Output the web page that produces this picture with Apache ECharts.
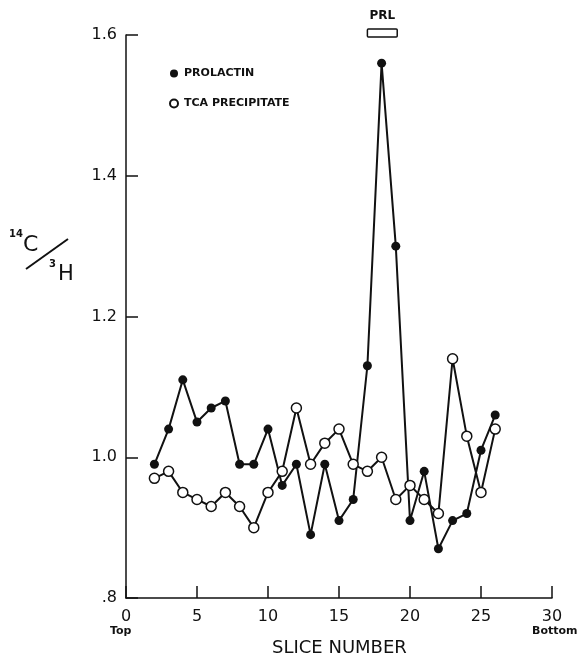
<!DOCTYPE html>
<html>
<head>
<meta charset="utf-8">
<script src="https://cdn.jsdelivr.net/npm/echarts@6/dist/echarts.min.js"></script>
<style>
  html, body { margin: 0; padding: 0; background: #fff; }
  #chart { width: 579px; height: 668px; }
</style>
</head>
<body>
<div id="chart"></div>
<script>
// Slice numbers along the gradient (top to bottom)
const slices = [2, 3, 4, 5, 6, 7, 8, 9, 10, 11, 12, 13, 14, 15, 16, 17, 18, 19, 20, 21, 22, 23, 24, 25, 26];

// 14C/3H ratio for immunoprecipitated prolactin
const prolactin = [0.99, 1.04, 1.11, 1.05, 1.07, 1.08, 0.99, 0.99, 1.04, 0.96, 0.99, 0.89, 0.99, 0.91, 0.94, 1.13, 1.56, 1.30, 0.91, 0.98, 0.87, 0.91, 0.92, 1.01, 1.06];

// 14C/3H ratio for the total TCA precipitate
const tca = [0.97, 0.98, 0.95, 0.94, 0.93, 0.95, 0.93, 0.90, 0.95, 0.98, 1.07, 0.99, 1.02, 1.04, 0.99, 0.98, 1.00, 0.94, 0.96, 0.94, 0.92, 1.14, 1.03, 0.95, 1.04];

// Slices where the prolactin marker runs
const prlBand = [17, 19.1];
const prlLabel = 'PRL';

// Axis settings
const xTicks = { min: 0, max: 30, step: 5 };
const yTicks = { min: 0.8, max: 1.6, step: 0.2 };

const seriesNames = ['PROLACTIN', 'TCA PRECIPITATE'];

const FONT = '"DejaVu Sans", sans-serif';
const INK = '#111';

const chart = echarts.init(document.getElementById('chart'), null, { renderer: 'canvas' });

const option = {
  backgroundColor: '#fff',
  animation: false,
  grid: { left: 126, right: 27, top: 35, bottom: 70, containLabel: false },
  xAxis: {
    type: 'value',
    min: xTicks.min, max: xTicks.max, interval: xTicks.step,
    axisLine: { show: true, lineStyle: { color: INK, width: 1.5 } },
    axisTick: { show: true, inside: true, length: 12, lineStyle: { color: INK, width: 1.5 } },
    splitLine: { show: false },
    axisLabel: { color: INK, fontFamily: FONT, fontSize: 16, margin: 11 }
  },
  yAxis: {
    type: 'value',
    min: yTicks.min, max: yTicks.max, interval: yTicks.step,
    axisLine: { show: true, lineStyle: { color: INK, width: 1.5 } },
    axisTick: { show: true, inside: true, length: 12, lineStyle: { color: INK, width: 1.5 } },
    splitLine: { show: false },
    axisLabel: {
      color: INK, fontFamily: FONT, fontSize: 16, margin: 9,
      formatter: v => {
        const s = (Math.round(v * 10) / 10).toFixed(1);
        return s.startsWith('0') ? s.slice(1) : s;
      }
    }
  },
  legend: {
    orient: 'vertical',
    left: 164, top: 63,
    itemGap: 19,
    itemWidth: 8, itemHeight: 8,
    textStyle: { color: INK, fontFamily: FONT, fontSize: 11, fontWeight: 'bold', padding: [0, 0, 0, 1] },
    data: [
      { name: seriesNames[0], icon: 'circle' },
      { name: seriesNames[1], icon: 'circle' }
    ]
  },
  series: [
    {
      name: seriesNames[1],
      type: 'line',
      data: slices.map((s, i) => [s, tca[i]]),
      symbol: 'circle',
      symbolSize: 10,
      lineStyle: { color: INK, width: 2 },
      itemStyle: { color: '#fff', borderColor: INK, borderWidth: 1.5 },
      z: 3
    },
    {
      name: seriesNames[0],
      type: 'line',
      data: slices.map((s, i) => [s, prolactin[i]]),
      symbol: 'circle',
      symbolSize: 9,
      lineStyle: { color: INK, width: 2 },
      itemStyle: { color: INK },
      z: 2
    },
    {
      // Marker bar and label above the peak
      type: 'custom',
      clip: false,
      silent: true,
      data: [prlBand],
      encode: { x: [0, 1] },
      renderItem: (params, api) => {
        const a = api.coord([api.value(0), yTicks.max]);
        const b = api.coord([api.value(1), yTicks.max]);
        const top = a[1] - 6;
        return {
          type: 'group',
          children: [
            {
              type: 'rect',
              shape: { x: a[0], y: top, width: b[0] - a[0], height: 8, r: 1 },
              style: { fill: '#fff', stroke: INK, lineWidth: 1.5 }
            },
            {
              type: 'text',
              style: {
                text: prlLabel, x: (a[0] + b[0]) / 2, y: top - 7,
                fill: INK, font: 'bold 12px ' + FONT,
                textAlign: 'center', textVerticalAlign: 'bottom'
              }
            }
          ]
        };
      }
    }
  ],
  graphic: [
    // y-axis title: 14C / 3H
    { type: 'text', left: 9, top: 229, style: { text: '14', fill: INK, font: 'bold 10px ' + FONT } },
    { type: 'text', left: 23, top: 234, style: { text: 'C', fill: INK, font: '22px ' + FONT } },
    { type: 'line', shape: { x1: 26, y1: 269, x2: 68, y2: 239 }, style: { stroke: INK, lineWidth: 2 } },
    { type: 'text', left: 49, top: 259, style: { text: '3', fill: INK, font: 'bold 10px ' + FONT } },
    { type: 'text', left: 58, top: 264, style: { text: 'H', fill: INK, font: '21px ' + FONT } },
    // x-axis end captions and title
    { type: 'text', left: 110, top: 626, style: { text: 'Top', fill: INK, font: 'bold 11px ' + FONT } },
    { type: 'text', left: 532, top: 626, style: { text: 'Bottom', fill: INK, font: 'bold 11px ' + FONT } },
    { type: 'text', left: 272, top: 639, style: { text: 'SLICE NUMBER', fill: INK, font: '18px ' + FONT } }
  ]
};

chart.setOption(option);
</script>
</body>
</html>
